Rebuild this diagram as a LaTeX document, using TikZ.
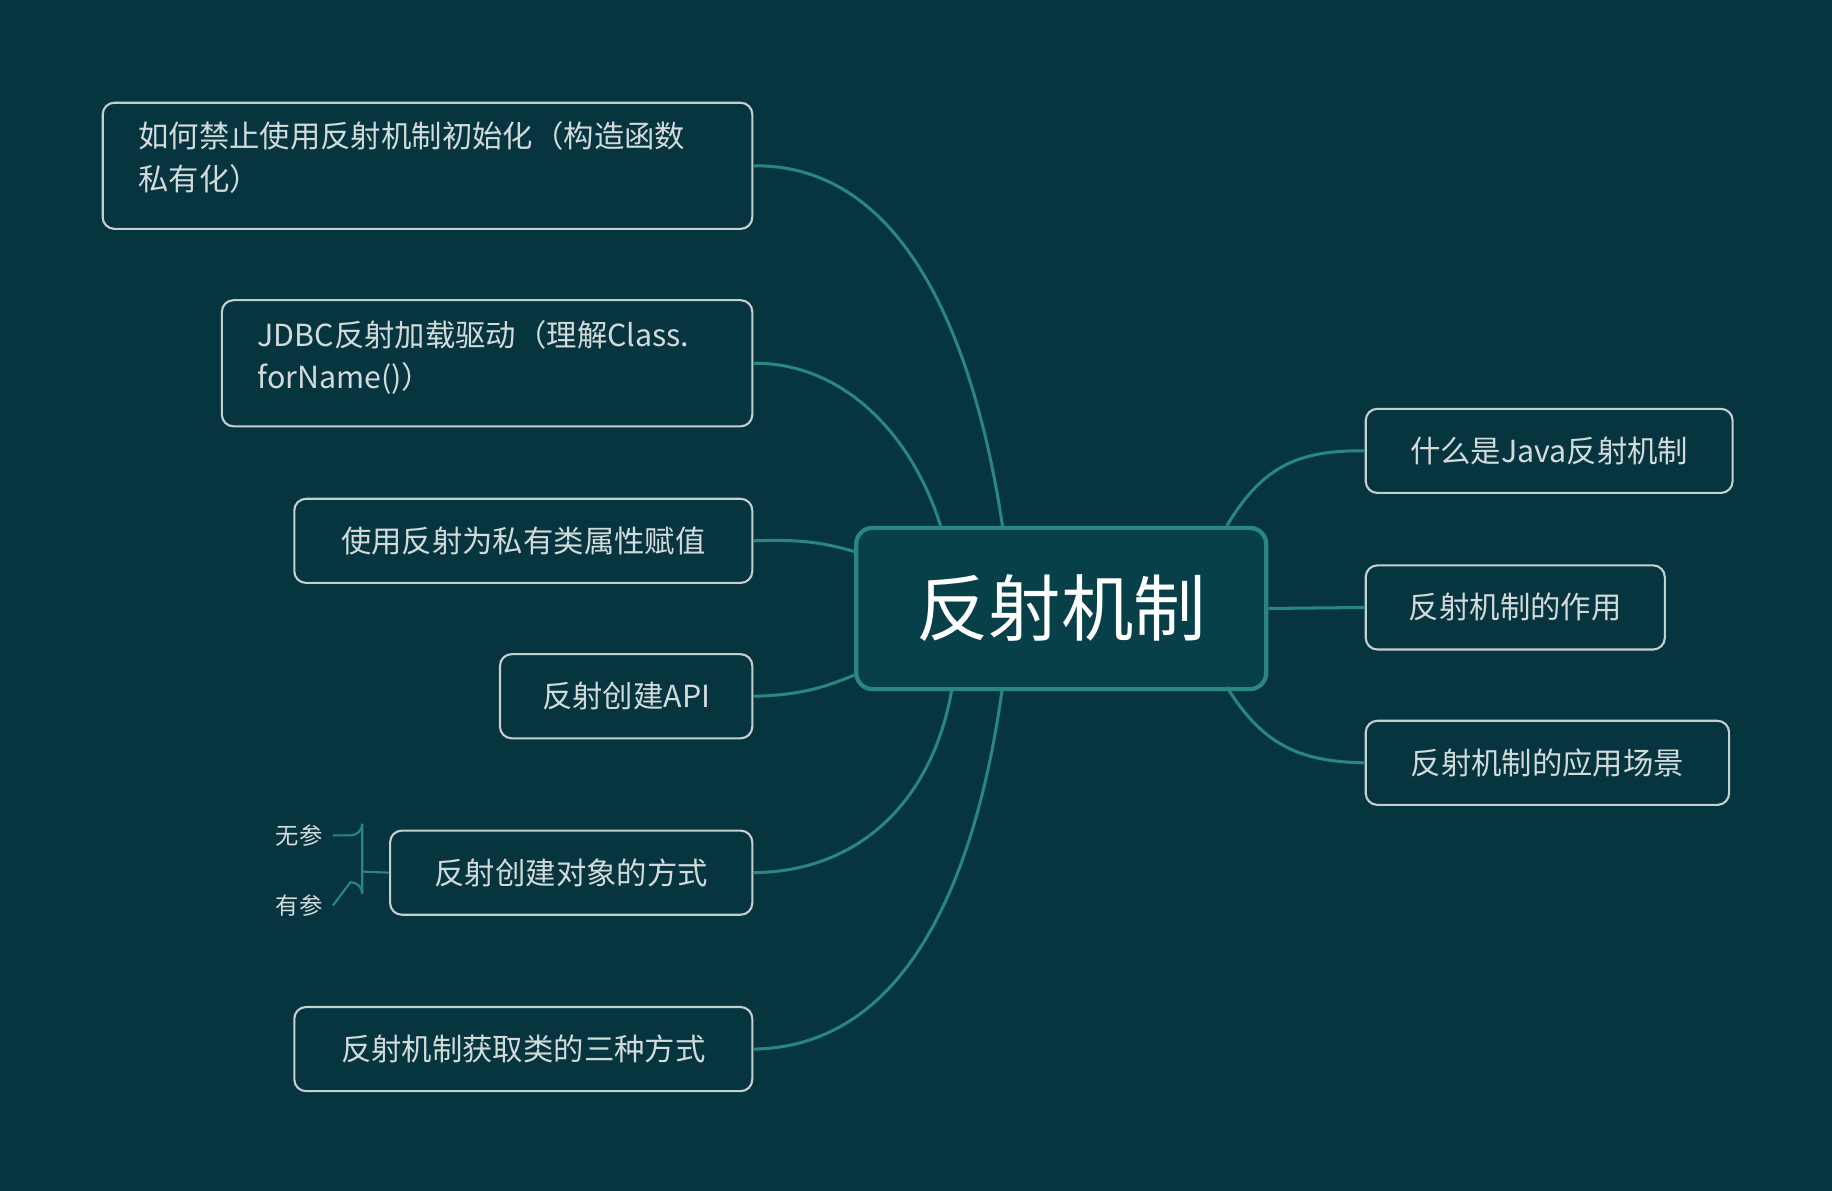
\documentclass[tikz,border=0pt]{standalone}
\usepackage{fontspec}
\setmainfont{Noto Sans CJK SC}
\begin{document}
\begin{tikzpicture}[x=0.5pt,y=-0.5pt,
  box/.style={draw=boxline,line width=0.9pt,rounded corners=5pt,inner sep=0pt,anchor=north west,text=txt,font=\fontsize{13}{18}\selectfont,align=left},
  conn/.style={draw=teal2,line width=1.3pt}]
\definecolor{bg}{HTML}{063540}
\definecolor{boxline}{HTML}{C5CFCF}
\definecolor{txt}{HTML}{D3DADA}
\definecolor{teal2}{HTML}{2A8780}
\definecolor{cfill}{HTML}{08404A}
\fill[bg] (0,0) rectangle (1568,1019);
\useasboundingbox (0,0) rectangle (1568,1019);
% center
\node[draw=teal2,fill=cfill,line width=1.8pt,rounded corners=7pt,minimum width=175.5pt,minimum height=69pt,anchor=north west,text=white,font=\fontsize{31}{36}\selectfont] (c) at (731,450) {反射机制};
% left boxes
\node[box,minimum width=278pt,minimum height=54pt] (l1) at (87,87) {};
\node[anchor=north west,text=txt,font=\fontsize{13}{18}\selectfont,align=left,inner sep=0pt] at (118,104) {如何禁止使用反射机制初始化（构造函数\\私有化）};
\node[box,minimum width=227pt,minimum height=54pt] (l2) at (189,256) {};
\node[anchor=north west,text=txt,font=\fontsize{13}{18}\selectfont,align=left,inner sep=0pt] at (220,274) {JDBC反射加载驱动（理解Class.\\forName()）};
\node[box,minimum width=196pt,minimum height=36pt,align=center] (l3) at (251,426) {使用反射为私有类属性赋值};
\node[box,minimum width=108pt,minimum height=36pt,align=center] (l4) at (427,559) {反射创建API};
\node[box,minimum width=155pt,minimum height=36pt,align=center] (l5) at (333,710) {反射创建对象的方式};
\node[box,minimum width=196pt,minimum height=36pt,align=center] (l6) at (251,861) {反射机制获取类的三种方式};
% right boxes
\node[box,minimum width=157pt,minimum height=36pt,align=center] (r1) at (1168,349) {什么是Java反射机制};
\node[box,minimum width=128pt,minimum height=36pt,align=center] (r2) at (1168,483) {反射机制的作用};
\node[box,minimum width=155.5pt,minimum height=36pt,align=center] (r3) at (1168,616) {反射机制的应用场景};
% small labels
\node[text=txt,font=\fontsize{10}{12}\selectfont,inner sep=0pt] (w1) at (256,715) {无参};
\node[text=txt,font=\fontsize{10}{12}\selectfont,inner sep=0pt] (w2) at (256,775) {有参};
% connectors
\coordinate (ct1) at (858,450); \coordinate (ct2) at (805,450);
\coordinate (cb1) at (815,588); \coordinate (cb2) at (858,588);
\coordinate (cr1) at (1050,450); \coordinate (cr3) at (1050,588);
\draw[conn] (l1.east) .. controls (790,140) and (840,330) .. (ct1);
\draw[conn] (l2.east) .. controls (720,310) and (780,370) .. (ct2);
\draw[conn] (l3.east) .. controls (690,461) and (710,466) .. (731,472);
\draw[conn] (l4.east) .. controls (690,595) and (710,586) .. (731,578);
\draw[conn] (l5.east) .. controls (740,746) and (800,680) .. (cb1);
\draw[conn] (l6.east) .. controls (790,896) and (840,720) .. (cb2);
\draw[conn] (cr1) .. controls (1080,400) and (1110,385) .. (r1.west);
\draw[conn] (c.east) -- (r2.west);
\draw[conn] (cr3) .. controls (1080,636) and (1110,652) .. (r3.west);
\draw[draw=teal2,line width=0.9pt] (285,715) -- (300,715) arc[start angle=90,end angle=0,radius=10] -- (310,765) arc[start angle=0,end angle=-90,radius=10] -- (285,775);
\draw[draw=teal2,line width=0.9pt] (310,746) -- (l5.west);
\end{tikzpicture}
\end{document}
